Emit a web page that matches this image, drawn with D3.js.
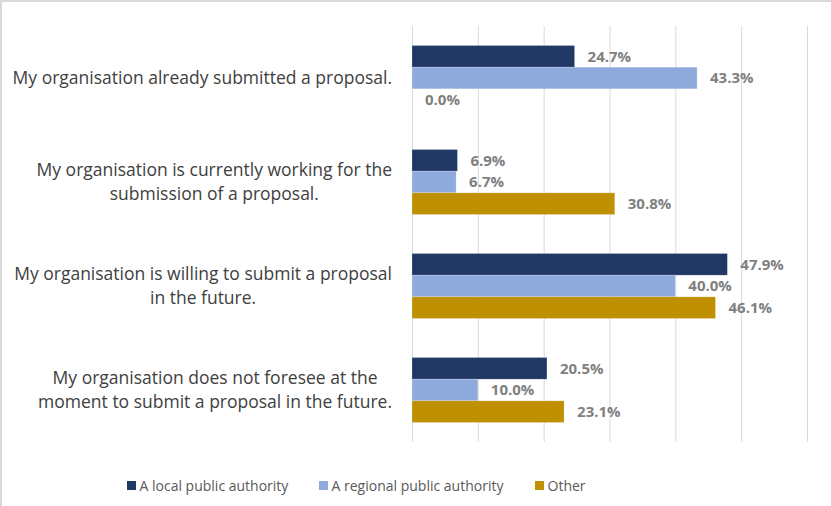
<!DOCTYPE html>
<html>
<head>
<meta charset="utf-8">
<script src="https://cdn.jsdelivr.net/npm/d3@7"></script>
<style>
  html, body { margin: 0; padding: 0; background: #ffffff; }
  svg { display: block; }
</style>
</head>
<body>
<div id="chart"></div>
<script>
// Survey answers (% of respondents) by type of organisation
const categories = [
  ["My organisation already submitted a proposal."],
  ["My organisation is currently working for the", "submission of a proposal."],
  ["My organisation is willing to submit a proposal", "in the future."],
  ["My organisation does not foresee at the", "moment to submit a proposal in the future."]
];
const seriesNames = ["A local public authority", "A regional public authority", "Other"];
const localValues    = [24.7, 6.9, 47.9, 20.5];
const regionalValues = [43.3, 6.7, 40.0, 10.0];
const otherValues    = [0.0, 30.8, 46.1, 23.1];
const seriesColors = ["#203864", "#8faadc", "#bf9000"];
const gridTicks = [0, 10, 20, 30, 40, 50, 60];

const seriesValues = [localValues, regionalValues, otherValues];

const W = 831, H = 506;
const plot = { left: 412, right: 807, top: 26, bottom: 442 };
const FONT = "'Open Sans', 'Noto Sans', sans-serif";

const svg = d3.select("#chart").append("svg")
  .attr("width", W).attr("height", H);

// light frame on the top and left edges
svg.append("line").attr("x1", 0).attr("x2", W).attr("y1", 1).attr("y2", 1)
  .attr("stroke", "#d9d9d9").attr("stroke-width", 2);
svg.append("line").attr("x1", 1).attr("x2", 1).attr("y1", 0).attr("y2", H)
  .attr("stroke", "#d9d9d9").attr("stroke-width", 2);

const x = d3.scaleLinear().domain([0, 60]).range([plot.left, plot.right]);
const y = d3.scaleBand().domain(d3.range(categories.length))
  .range([plot.top, plot.bottom]).paddingInner(0.375).paddingOuter(0.1875);
const ySub = d3.scaleBand().domain(d3.range(seriesNames.length))
  .range([0, y.bandwidth()]);

// vertical gridlines
const xAxis = d3.axisBottom(x).tickValues(gridTicks)
  .tickSize(-(plot.bottom - plot.top)).tickFormat("");
const gx = svg.append("g").attr("transform", `translate(0,${plot.bottom})`).call(xAxis);
gx.select(".domain").remove();
gx.selectAll(".tick line").attr("stroke", "#d9d9d9").attr("stroke-width", 1);

// bars and value labels
const groups = svg.append("g").selectAll("g")
  .data(categories.map((c, i) => i))
  .join("g")
  .attr("transform", i => `translate(0,${y(i)})`);

groups.each(function(ci) {
  const g = d3.select(this);
  seriesValues.forEach((vals, si) => {
    const v = vals[ci];
    g.append("rect")
      .attr("x", x(0))
      .attr("y", ySub(si))
      .attr("width", x(v) - x(0))
      .attr("height", ySub.bandwidth())
      .attr("fill", seriesColors[si])
      .attr("stroke", v > 0 ? "#ffffff" : "none")
      .attr("stroke-opacity", 0.35)
      .attr("stroke-width", 0.6);
    g.append("text")
      .attr("x", x(v) + 13)
      .attr("y", ySub(si) + ySub.bandwidth() / 2)
      .attr("dy", "0.35em")
      .attr("font-family", FONT)
      .attr("font-weight", "bold")
      .attr("font-size", 15)
      .attr("fill", "#7f7f7f")
      .text(v.toFixed(1) + "%");
  });
});

// category labels, lines centred within a right-aligned block
const catG = svg.append("g");
categories.forEach((lines, ci) => {
  const t = catG.append("text")
    .attr("font-family", FONT)
    .attr("font-size", 17.5)
    .attr("fill", "#404040")
    .attr("text-anchor", "middle");
  const cy = y(ci) + y.bandwidth() / 2;
  const lh = 24;
  const spans = lines.map((ln, li) => t.append("tspan")
    .attr("y", cy + (li - (lines.length - 1) / 2) * lh)
    .attr("dy", "0.35em")
    .text(ln));
  const maxW = d3.max(spans, s => s.node().getComputedTextLength());
  const rightEdge = 392;
  spans.forEach(s => s.attr("x", rightEdge - maxW / 2));
});

// legend
const legendItems = [
  { name: seriesNames[0], color: seriesColors[0], x: 127 },
  { name: seriesNames[1], color: seriesColors[1], x: 319 },
  { name: seriesNames[2], color: seriesColors[2], x: 535 }
];
const lg = svg.append("g");
legendItems.forEach(d => {
  lg.append("rect").attr("x", d.x).attr("y", 481).attr("width", 9).attr("height", 9)
    .attr("fill", d.color);
  lg.append("text").attr("x", d.x + 12.5).attr("y", 486).attr("dy", "0.35em")
    .attr("font-family", FONT)
    .attr("font-size", 14).attr("fill", "#595959")
    .text(d.name);
});
</script>
</body>
</html>
